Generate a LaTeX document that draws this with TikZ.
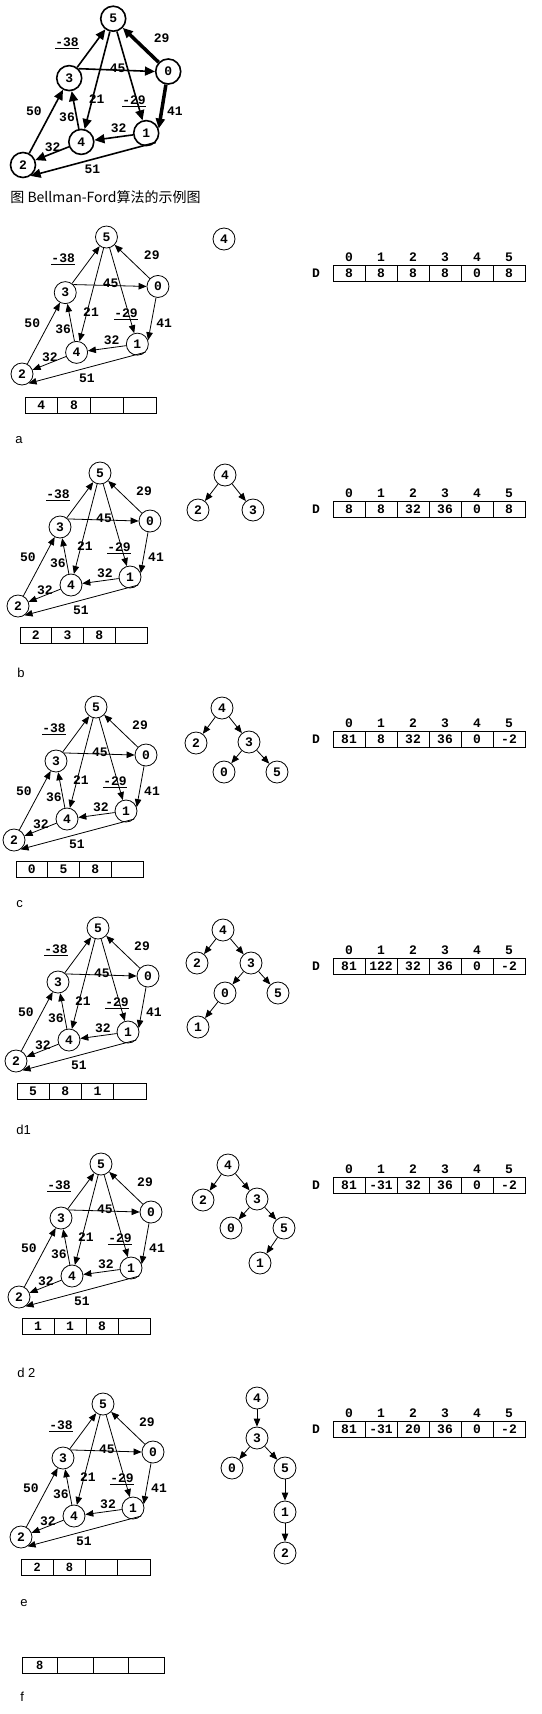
\documentclass[tikz,border=0pt]{standalone}
\usepackage{fontspec}
\setmonofont{Liberation Mono}
\setsansfont{Liberation Sans}
\newfontfamily\cjk{Noto Sans CJK SC}
\usetikzlibrary{arrows.meta}

\newcommand{\numfont}{\ttfamily\bfseries\fontsize{13}{15}\selectfont}

\tikzset{
  vtx/.style={circle, draw, minimum size=22pt, inner sep=0pt, font=\numfont},
  wt/.style={inner sep=0pt, font=\numfont},
  arr/.style={-{Triangle[length=8pt,width=6.5pt]}},
  cell/.style={draw, minimum width=32pt, minimum height=16pt, inner sep=0pt, font=\numfont},
  lbl/.style={anchor=west, inner sep=0pt, font=\sffamily\fontsize{13}{15}\selectfont}
}

% the example graph: #1 prefix, #2 place of vertex 2, #3 scope options, #4 heavy edges
\newcommand{\bfgraph}[4]{%
  \begin{scope}[shift={#2}, #3]
    \node[vtx] (#12) at (0,0) {2};
    \node[vtx] (#15) at (82,-133) {5};
    \node[vtx] (#10) at (132,-85) {0};
    \node[vtx] (#13) at (42,-79) {3};
    \node[vtx] (#14) at (53,-21) {4};
    \node[vtx] (#11) at (112,-29) {1};
    \draw[arr] (#13) -- (#15);
    \draw[arr,#4] (#10) -- (#15);
    \draw[arr] (#13.45) -- (#10.180);
    \draw[arr] (#15) -- (#14);
    \draw[arr] (#15) -- (#11);
    \draw[arr,#4] (#10.-100) -- (#11.20);
    \draw[arr] (#14) -- (#13);
    \draw[arr] (#11) -- (#14);
    \draw[arr] (#14) -- (#12);
    \draw[arr] (#11.-45) -- (#12.-55);
    \draw[arr] (#12) -- (#13);
    \node[wt] (#1w35) at (40,-111) {\underline{-38}};
    \node[wt] (#1w05) at (126,-115) {29};
    \node[wt] (#1w30) at (86,-88) {45};
    \node[wt] (#1w54) at (67,-60) {21};
    \node[wt] (#1w51) at (101,-58) {\underline{-29}};
    \node[wt] (#1w01) at (138,-49) {41};
    \node[wt] (#1w23) at (10,-49) {50};
    \node[wt] (#1w43) at (40,-43) {36};
    \node[wt] (#1w14) at (87,-33) {32};
    \node[wt] (#1w42) at (27,-16) {32};
    \node[wt] (#1w12) at (63,4) {51};
  \end{scope}}

% distance table: #1 prefix, #2 top of the cells, #3 values
\newcommand{\dtable}[3]{%
  \node[wt] (#1D) at (316,#2+8) {D};
  \foreach \v [count=\i from 0] in {#3} {
    \node[cell] (#1c\i) at (349+32*\i,#2+8) {\v};
    \node[wt] (#1h\i) at (349+32*\i,#2-8) {\i};
  }}

% queue: [#1 cell options] #2 prefix, #3 left, #4 top, #5 cell width, #6 values
\newcommand{\queue}[6][]{%
  \foreach \v [count=\i from 0] in {#6} {
    \node[cell, minimum width=#5pt, #1] (#2q\i) at (#3+#5/2+#5*\i,#4+8) {\v};
  }}

\begin{document}
\begin{tikzpicture}[x=1pt, y=-1pt, line width=0.8pt]
\useasboundingbox (0,0) rectangle (541,1714);

% example graph
\bfgraph{g}{(23,165)}{scale=1.1, line width=1.6pt, vtx/.append style={minimum size=25pt}, arr/.style={-{Triangle[length=10pt,width=9pt]}}}{line width=3.5pt}
\node[lbl, font=\cjk\fontsize{14}{16}\selectfont] (cap) at (10,197) {图 Bellman-Ford算法的示例图};

% a
\bfgraph{a}{(22,374)}{scale=1.03}{}
\node[vtx] (ta4) at (224,239) {4};
\dtable{a}{265}{8,8,8,8,0,8}
\queue{a}{25}{397}{32.75}{4,8,{},{}}
\node[lbl] (la) at (15,440) {a};

% b
\bfgraph{b}{(18,606)}{}{}
\node[vtx] (tb4) at (225,475) {4};
\node[vtx] (tb2) at (198,510) {2};
\node[vtx] (tb3) at (253,510) {3};
\draw[arr] (tb4) -- (tb2);
\draw[arr] (tb4) -- (tb3);
\dtable{b}{501}{8,8,32,36,0,8}
\queue{b}{20}{627}{31.75}{2,3,8,{}}
\node[lbl] (lb) at (17,673) {b};

% c
\bfgraph{c}{(14,840)}{}{}
\node[vtx] (tc4) at (222,708) {4};
\node[vtx] (tc2) at (196,743) {2};
\node[vtx] (tc3) at (249,742) {3};
\node[vtx] (tc0) at (224,772) {0};
\node[vtx] (tc5) at (277,772) {5};
\draw[arr] (tc4) -- (tc2);
\draw[arr] (tc4) -- (tc3);
\draw[arr] (tc3) -- (tc0);
\draw[arr] (tc3) -- (tc5);
\dtable{c}{731}{81,8,32,36,0,-2}
\queue{c}{16}{861}{31.75}{0,5,8,{}}
\node[lbl] (lc) at (16,904) {c};

% d1
\bfgraph{d}{(16,1061)}{}{}
\node[vtx] (td4) at (223,930) {4};
\node[vtx] (td2) at (197,963) {2};
\node[vtx] (td3) at (251,963) {3};
\node[vtx] (td0) at (225,993) {0};
\node[vtx] (td5) at (278,993) {5};
\node[vtx] (td1) at (198,1027) {1};
\draw[arr] (td4) -- (td2);
\draw[arr] (td4) -- (td3);
\draw[arr] (td3) -- (td0);
\draw[arr] (td3) -- (td5);
\draw[arr] (td0) -- (td1);
\dtable{d}{958}{81,122,32,36,0,-2}
\queue{d}{17}{1083}{32.25}{5,8,1,{}}
\node[lbl] (ld) at (16,1130) {d1};

% d2
\bfgraph{dd}{(19,1297)}{}{}
\node[vtx] (tdd4) at (228,1165) {4};
\node[vtx] (tdd2) at (203,1200) {2};
\node[vtx] (tdd3) at (257,1199) {3};
\node[vtx] (tdd0) at (231,1228) {0};
\node[vtx] (tdd5) at (284,1228) {5};
\node[vtx] (tdd1) at (260,1263) {1};
\draw[arr] (tdd4) -- (tdd2);
\draw[arr] (tdd4) -- (tdd3);
\draw[arr] (tdd3) -- (tdd0);
\draw[arr] (tdd3) -- (tdd5);
\draw[arr] (tdd5) -- (tdd1);
\dtable{dd}{1177}{81,-31,32,36,0,-2}
\queue{dd}{22}{1318}{32}{1,1,8,{}}
\node[lbl] (ldd) at (17,1373) {d 2};

% e
\bfgraph{e}{(21,1537)}{}{}
\node[vtx] (te4) at (257,1398) {4};
\node[vtx] (te3) at (257,1438) {3};
\node[vtx] (te0) at (232,1468) {0};
\node[vtx] (te5) at (285,1468) {5};
\node[vtx] (te1) at (285,1512) {1};
\node[vtx] (te2) at (285,1553) {2};
\draw[arr] (te4) -- (te3);
\draw[arr] (te3) -- (te0);
\draw[arr] (te3) -- (te5);
\draw[arr] (te5) -- (te1);
\draw[arr] (te1) -- (te2);
\dtable{e}{1421}{81,-31,20,36,0,-2}
\queue[font=\sffamily\bfseries\fontsize{12}{14}\selectfont]{e}{21}{1559}{32.25}{2,8,{},{}}
\node[lbl] (le) at (20,1603) {e};

% f
\queue[font=\sffamily\bfseries\fontsize{12}{14}\selectfont]{f}{22}{1657}{35.5}{8,{},{},{}}
\node[lbl] (lf) at (20,1697) {f};
\end{tikzpicture}
\end{document}
